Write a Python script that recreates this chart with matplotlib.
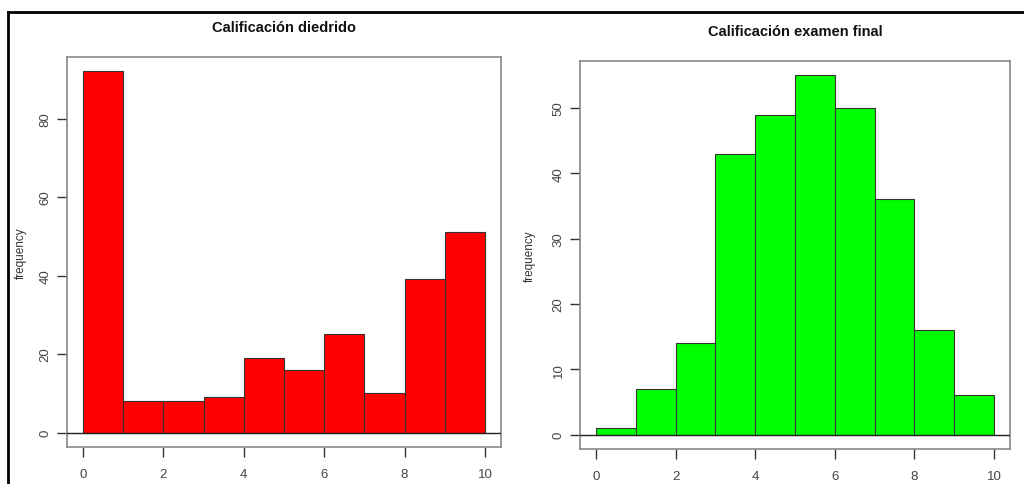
import numpy as np
import matplotlib.pyplot as plt
from matplotlib.lines import Line2D

plt.rcParams['font.family'] = ['Liberation Sans', 'DejaVu Sans']

# bin edges shared by both histograms
bin_edges = [0, 1, 2, 3, 4, 5, 6, 7, 8, 9, 10]

# counts per bin
diedrido_counts = [92, 8, 8, 9, 19, 16, 25, 10, 39, 51]
final_counts = [1, 7, 14, 43, 49, 55, 50, 36, 16, 6]

titles = ["Calificación diedrido", "Calificación examen final"]
colors = ["#ff0000", "#00ff00"]
ylabel = "frequency"
xticks = [0, 2, 4, 6, 8, 10]
yticks_left = [0, 20, 40, 60, 80]
yticks_right = [0, 10, 20, 30, 40, 50]

fig = plt.figure(figsize=(10.24, 4.85), dpi=100)
fig.patch.set_facecolor("white")

ax1 = fig.add_axes([67/1024, 37/485, 434/1024, 390/485])
ax2 = fig.add_axes([580/1024, 35/485, 430/1024, 388/485])


def r_hist(ax, counts, color, title, yticks, label_x):
    edges = np.array(bin_edges)
    ax.bar(edges[:-1], counts, width=np.diff(edges), align="edge",
           color=color, edgecolor="#333333", linewidth=0.8, zorder=2)
    top = max(counts)
    ax.set_xlim(-0.04 * 10, 10 + 0.04 * 10)
    ax.set_ylim(-0.04 * top, top * 1.04)
    ax.axhline(0, color="#222222", linewidth=1.0, zorder=3)
    for s in ax.spines.values():
        s.set_color("#888888")
        s.set_linewidth(1.2)
    ax.set_xticks(xticks)
    ax.set_yticks(yticks)
    ax.tick_params(axis="both", direction="out", length=7, width=1.0,
                   color="#333333", labelcolor="#444444", labelsize=9.5)
    ax.tick_params(axis="x", pad=8)
    ax.tick_params(axis="y", pad=4)
    for lab in ax.get_yticklabels():
        lab.set_rotation(90)
        lab.set_va("center")
    ax.text(0.5, 1.077, title, transform=ax.transAxes, ha="center",
            va="center", fontsize=10.5, fontweight="bold", color="#111111")
    ax.set_ylabel(ylabel, fontsize=8.5, color="#333333")
    ax.yaxis.set_label_coords(label_x, 0.5)


r_hist(ax1, diedrido_counts, colors[0], titles[0], yticks_left, -0.092)
r_hist(ax2, final_counts, colors[1], titles[1], yticks_right, -0.103)

# screenshot frame lines
fig.add_artist(Line2D([7.5/1024, 1], [1 - 12.5/485, 1 - 12.5/485],
                      color="black", linewidth=2.0, transform=fig.transFigure))
fig.add_artist(Line2D([7.5/1024, 7.5/1024], [0, 1 - 12.5/485],
                      color="black", linewidth=2.0, transform=fig.transFigure))

fig.savefig("out.png", dpi=100)
